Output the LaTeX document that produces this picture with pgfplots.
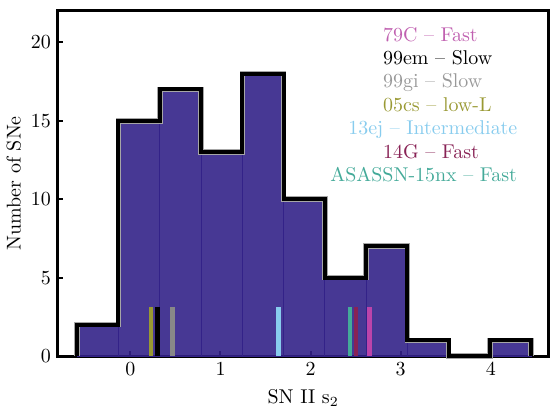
\documentclass[border=0pt]{standalone}
\usepackage{pgfplots}
\pgfplotsset{compat=1.18}
\definecolor{histfill}{HTML}{332288}
\definecolor{cpink}{HTML}{BB44AA}
\definecolor{cpinkt}{HTML}{C060B0}
\definecolor{cgray}{HTML}{888888}
\definecolor{cgrayt}{HTML}{999999}
\definecolor{colive}{HTML}{999933}
\definecolor{ccyan}{HTML}{88CCEE}
\definecolor{cwine}{HTML}{882255}
\definecolor{cteal}{HTML}{44AA99}
\begin{document}
\begin{tikzpicture}
\begin{axis}[
  name=ax,
  scale only axis,
  width=246pt, height=173pt,
  xmin=-0.805, xmax=4.64, ymin=0, ymax=22,
  xtick={0,1,2,3,4}, ytick={0,5,10,15,20},
  tick align=inside, tick pos=left,
  major tick length=2.5pt,
  every tick/.style={black, line width=1pt},
  axis line style={line width=1.5pt},
  xlabel={SN II s$_2$},
  ylabel={Number of SNe},
  ylabel style={yshift=-2pt},
  clip=false,
]
\addplot[ybar interval, fill=histfill, fill opacity=0.9, draw=histfill, line width=0.4pt] coordinates {
(-0.59,2) (-0.132,15) (0.326,17) (0.784,13) (1.242,18) (1.70,10) (2.158,5) (2.616,7) (3.074,1) (3.532,0) (3.99,1) (4.448,1)};
\addplot[colive, line width=2.2pt] coordinates {(0.229,0) (0.229,3.1)};
\addplot[black, line width=2.2pt] coordinates {(0.299,0) (0.299,3.1)};
\addplot[cgray, line width=2.2pt] coordinates {(0.468,0) (0.468,3.1)};
\addplot[ccyan, line width=2.2pt] coordinates {(1.643,0) (1.643,3.1)};
\addplot[cteal, line width=2.2pt] coordinates {(2.436,0) (2.436,3.1)};
\addplot[cwine, line width=2.2pt] coordinates {(2.506,0) (2.506,3.1)};
\addplot[cpink, line width=2.2pt] coordinates {(2.655,0) (2.655,3.1)};
\addplot[gray!70, line width=2.8pt, line join=miter] coordinates {
(-0.59,0)(-0.59,2)(-0.132,2)(-0.132,15)(0.326,15)(0.326,17)(0.784,17)(0.784,13)(1.242,13)(1.242,18)(1.70,18)(1.70,10)(2.158,10)(2.158,5)(2.616,5)(2.616,7)(3.074,7)(3.074,1)(3.532,1)(3.532,0)(3.99,0)(3.99,1)(4.448,1)(4.448,0)};
\addplot[black, line width=2pt, line join=miter] coordinates {
(-0.59,0)(-0.59,2)(-0.132,2)(-0.132,15)(0.326,15)(0.326,17)(0.784,17)(0.784,13)(1.242,13)(1.242,18)(1.70,18)(1.70,10)(2.158,10)(2.158,5)(2.616,5)(2.616,7)(3.074,7)(3.074,1)(3.532,1)(3.532,0)(3.99,0)(3.99,1)(4.448,1)(4.448,0)};
\node[anchor=base west, inner sep=0pt, text=cpinkt] at (axis cs:2.80,20.07) {79C -- Fast};
\node[anchor=base west, inner sep=0pt, text=black] at (axis cs:2.80,18.58) {99em -- Slow};
\node[anchor=base west, inner sep=0pt, text=cgrayt] at (axis cs:2.80,17.09) {99gi -- Slow};
\node[anchor=base west, inner sep=0pt, text=colive] at (axis cs:2.80,15.59) {05cs -- low-L};
\node[anchor=base west, inner sep=0pt, text=ccyan] at (axis cs:2.414,14.10) {13ej -- Intermediate};
\node[anchor=base west, inner sep=0pt, text=cwine] at (axis cs:2.80,12.60) {14G -- Fast};
\node[anchor=base west, inner sep=0pt, text=cteal] at (axis cs:2.215,11.11) {ASASSN-15nx -- Fast};
\end{axis}
\path ([yshift=5.5pt]ax.north) ([xshift=0.5pt]ax.east);
\end{tikzpicture}
\end{document}
